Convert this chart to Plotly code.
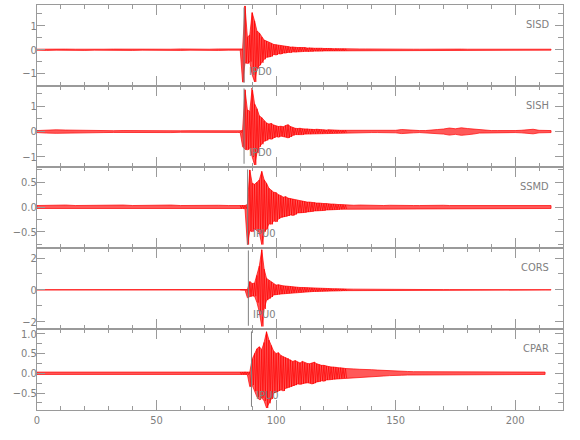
import plotly.graph_objects as go
from plotly.subplots import make_subplots

# ---------------- data ----------------
STATIONS = ["SISD", "SISH", "SSMD", "CORS", "CPAR"]
PICK_T = [86.6, 86.6, 88.1, 88.4, 89.7]
PICK_LABELS = ["IPD0", "IPD0", "IPU0", "IPU0", "IPU0"]
END_T = [215.5, 217.0, 217.0, 217.0, 212.5]
Y_RANGES = [[-1.52, 1.87], [-1.40, 1.80], [-0.83, 0.81], [-2.46, 2.63], [-0.93, 1.12]]
Y_DTICK = [1, 1, 0.5, 2, 0.5]
Y_MINOR = [0.5, 0.5, 0.25, 1, 0.25]
Y_FORMAT = ["d", "d", ".1f", "d", ".1f"]
X_TICKS = [0, 50, 100, 150, 200]

# sample grids (s)
NOISE_T = [0, 4, 8, 12, 16, 20, 24, 28, 32, 36, 40, 44, 48, 52, 56, 60, 64, 68, 72, 76, 80, 84]
ACTIVE_T = [85, 86, 87, 88, 89, 90, 91, 92, 93, 94, 95, 96, 97, 98, 99, 100, 101, 102, 103, 104,
            105, 106, 107, 108, 109, 110, 111, 112, 113, 114, 115, 116, 117, 118, 119, 120, 121,
            122, 123, 124, 125, 126, 127, 128, 129]
POST_T = [130, 132.5, 135, 137.5, 140, 142.5, 145, 147.5, 150, 152.5, 155, 157.5, 160, 162.5,
          165, 167.5, 170, 172.5, 175, 177.5, 180, 182.5, 185, 187.5, 190, 192.5, 195, 197.5,
          200, 202.5, 205, 207.5, 210, 212.5, 215]

# SISD
SISD_NOISE = [0.02, 0.03, 0.02, 0.025, 0.02, 0.03, 0.02, 0.02, 0.025, 0.02, 0.03, 0.02, 0.02,
              0.025, 0.02, 0.03, 0.02, 0.025, 0.02, 0.03, 0.02, 0.025]
SISD_HI = [0.02, 0.03, 1.83, 0.52, 0.62, 1.55, 1.2, 0.78, 0.7, 0.52, 0.4, 0.36, 0.3, 0.27, 0.22,
           0.21, 0.18, 0.17, 0.15, 0.14, 0.13, 0.11, 0.12, 0.1, 0.09, 0.1, 0.08, 0.09, 0.07, 0.08,
           0.07, 0.06, 0.07, 0.06, 0.06, 0.05, 0.06, 0.05, 0.05, 0.04, 0.05, 0.04, 0.04, 0.04, 0.035]
SISD_LO = [-0.02, -1.36, -0.55, -0.58, -0.5, -1.05, -1.35, -0.8, -0.65, -0.55, -0.4, -0.32, -0.31,
           -0.28, -0.2, -0.22, -0.17, -0.18, -0.14, -0.14, -0.11, -0.12, -0.09, -0.1, -0.09, -0.07,
           -0.08, -0.07, -0.08, -0.06, -0.07, -0.06, -0.06, -0.05, -0.06, -0.05, -0.05, -0.05,
           -0.04, -0.05, -0.04, -0.04, -0.035, -0.04, -0.03]
SISD_POST = [0.03, 0.035, 0.03, 0.03, 0.025, 0.03, 0.025, 0.02, 0.025, 0.02, 0.025, 0.02, 0.02,
             0.025, 0.02, 0.02, 0.025, 0.02, 0.02, 0.025, 0.02, 0.02, 0.02, 0.025, 0.02, 0.02,
             0.025, 0.02, 0.02, 0.02, 0.025, 0.02, 0.02, 0.02, 0.02]

# SISH
SISH_NOISE = [0.04, 0.06, 0.07, 0.06, 0.05, 0.04, 0.05, 0.04, 0.035, 0.04, 0.035, 0.04, 0.03,
              0.035, 0.04, 0.03, 0.035, 0.03, 0.035, 0.03, 0.03, 0.035]
SISH_HI = [0.03, 0.05, 1.65, 0.85, 0.8, 1.72, 1.1, 0.9, 0.62, 0.55, 0.42, 0.34, 0.3, 0.32, 0.26,
           0.22, 0.2, 0.21, 0.19, 0.24, 0.27, 0.2, 0.16, 0.13, 0.12, 0.13, 0.11, 0.1, 0.11, 0.09,
           0.1, 0.08, 0.09, 0.08, 0.07, 0.07, 0.06, 0.07, 0.06, 0.06, 0.05, 0.06, 0.05, 0.05, 0.05]
SISH_LO = [-0.04, -0.6, -0.7, -0.72, -0.65, -1.0, -1.32, -0.85, -0.6, -0.5, -0.38, -0.35, -0.28,
           -0.3, -0.25, -0.2, -0.22, -0.18, -0.2, -0.22, -0.25, -0.21, -0.15, -0.12, -0.13, -0.11,
           -0.12, -0.1, -0.09, -0.1, -0.08, -0.09, -0.08, -0.07, -0.08, -0.06, -0.07, -0.06,
           -0.06, -0.05, -0.06, -0.05, -0.05, -0.05, -0.04]
SISH_POST = [0.05, 0.045, 0.04, 0.045, 0.04, 0.04, 0.035, 0.04, 0.05, 0.08, 0.06, 0.05, 0.04,
             0.04, 0.05, 0.08, 0.1, 0.14, 0.11, 0.15, 0.12, 0.1, 0.06, 0.05, 0.04, 0.04, 0.035,
             0.04, 0.04, 0.05, 0.06, 0.09, 0.05, 0.04, 0.04]

# SSMD
SSMD_NOISE = [0.03, 0.035, 0.03, 0.04, 0.03, 0.035, 0.03, 0.03, 0.035, 0.04, 0.03, 0.035, 0.03,
              0.03, 0.04, 0.03, 0.035, 0.03, 0.03, 0.035, 0.03, 0.03]
SSMD_HI = [0.03, 0.035, 0.03, 0.05, 0.75, 0.48, 0.46, 0.5, 0.55, 0.72, 0.55, 0.48, 0.38, 0.34,
           0.3, 0.29, 0.25, 0.23, 0.2, 0.21, 0.18, 0.17, 0.16, 0.14, 0.13, 0.12, 0.12, 0.11, 0.1,
           0.1, 0.09, 0.09, 0.08, 0.08, 0.07, 0.07, 0.07, 0.06, 0.06, 0.06, 0.05, 0.05, 0.05,
           0.045, 0.04]
SSMD_LO = [-0.03, -0.03, -0.035, -0.76, -0.48, -0.5, -0.44, -0.47, -0.52, -0.76, -0.5, -0.45,
           -0.34, -0.35, -0.28, -0.3, -0.24, -0.21, -0.2, -0.19, -0.18, -0.16, -0.17, -0.15,
           -0.12, -0.12, -0.11, -0.11, -0.1, -0.09, -0.09, -0.08, -0.08, -0.07, -0.07, -0.07,
           -0.06, -0.06, -0.06, -0.05, -0.05, -0.05, -0.045, -0.04, -0.04]
SSMD_POST = [0.04, 0.035, 0.04, 0.035, 0.03, 0.035, 0.03, 0.035, 0.03, 0.03, 0.035, 0.03, 0.03,
             0.035, 0.03, 0.03, 0.035, 0.03, 0.03, 0.03, 0.035, 0.03, 0.03, 0.035, 0.03, 0.03,
             0.03, 0.035, 0.03, 0.03, 0.03, 0.035, 0.03, 0.03, 0.03]

# CORS
CORS_NOISE = [0.01, 0.012, 0.01, 0.01, 0.012, 0.01, 0.01, 0.012, 0.01, 0.01, 0.012, 0.01, 0.01,
              0.012, 0.01, 0.01, 0.012, 0.01, 0.01, 0.012, 0.01, 0.01]
CORS_HI = [0.01, 0.01, 0.012, 0.02, 0.52, 0.4, 0.42, 0.9, 1.5, 2.52, 1.3, 0.72, 0.6, 0.5, 0.36,
           0.3, 0.32, 0.27, 0.25, 0.24, 0.22, 0.21, 0.19, 0.18, 0.16, 0.15, 0.15, 0.14, 0.13,
           0.12, 0.12, 0.11, 0.1, 0.1, 0.09, 0.09, 0.08, 0.08, 0.07, 0.07, 0.07, 0.06, 0.06,
           0.06, 0.05]
CORS_LO = [-0.01, -0.01, -0.01, -0.5, -0.42, -0.38, -0.4, -0.8, -1.4, -2.3, -1.2, -0.65, -0.55,
           -0.45, -0.32, -0.3, -0.28, -0.26, -0.24, -0.22, -0.21, -0.2, -0.18, -0.17, -0.15,
           -0.15, -0.14, -0.13, -0.12, -0.12, -0.11, -0.1, -0.1, -0.09, -0.09, -0.08, -0.08,
           -0.07, -0.07, -0.07, -0.06, -0.06, -0.06, -0.05, -0.05]
CORS_POST = [0.05, 0.045, 0.04, 0.04, 0.035, 0.03, 0.03, 0.025, 0.025, 0.02, 0.02, 0.02, 0.02,
             0.015, 0.015, 0.015, 0.015, 0.015, 0.012, 0.012, 0.012, 0.012, 0.01, 0.01, 0.01,
             0.01, 0.01, 0.01, 0.01, 0.01, 0.01, 0.01, 0.01, 0.01, 0.01]

# CPAR
CPAR_NOISE = [0.03, 0.03, 0.035, 0.03, 0.03, 0.03, 0.035, 0.03, 0.03, 0.035, 0.03, 0.03, 0.03,
              0.035, 0.04, 0.03, 0.03, 0.035, 0.03, 0.03, 0.03, 0.035]
CPAR_HI = [0.03, 0.03, 0.035, 0.03, 0.03, 0.36, 0.5, 0.62, 0.67, 0.6, 0.78, 1.05, 0.84, 0.7,
           0.56, 0.5, 0.52, 0.45, 0.42, 0.4, 0.38, 0.34, 0.3, 0.32, 0.28, 0.26, 0.3, 0.27, 0.25,
           0.24, 0.26, 0.28, 0.24, 0.22, 0.2, 0.2, 0.18, 0.17, 0.16, 0.16, 0.15, 0.14, 0.14,
           0.13, 0.12]
CPAR_LO = [-0.03, -0.03, -0.03, -0.035, -0.34, -0.3, -0.45, -0.6, -0.67, -0.62, -0.7, -0.88,
           -0.76, -0.65, -0.5, -0.48, -0.45, -0.42, -0.45, -0.38, -0.36, -0.34, -0.32, -0.3,
           -0.27, -0.28, -0.26, -0.25, -0.24, -0.25, -0.27, -0.25, -0.22, -0.21, -0.19, -0.2,
           -0.17, -0.16, -0.16, -0.15, -0.14, -0.14, -0.13, -0.12, -0.12]
CPAR_POST = [0.12, 0.11, 0.1, 0.1, 0.09, 0.08, 0.07, 0.06, 0.05, 0.05, 0.045, 0.04, 0.04, 0.04,
             0.035, 0.035, 0.04, 0.035, 0.03, 0.035, 0.03, 0.03, 0.035, 0.03, 0.03, 0.03, 0.035,
             0.03, 0.03, 0.03, 0.03, 0.035, 0.03, 0.03, 0.03]

TRACES = [
    (SISD_NOISE, SISD_HI, SISD_LO, SISD_POST),
    (SISH_NOISE, SISH_HI, SISH_LO, SISH_POST),
    (SSMD_NOISE, SSMD_HI, SSMD_LO, SSMD_POST),
    (CORS_NOISE, CORS_HI, CORS_LO, CORS_POST),
    (CPAR_NOISE, CPAR_HI, CPAR_LO, CPAR_POST),
]

# ---------------- styling ----------------
RED = "#ff0000"
AX = "#9a9a9a"
TXT = "#808080"
PICKC = "#808080"
FONT = "DejaVu Sans Condensed, Liberation Sans Narrow, Arial Narrow, sans-serif"


def envelope(noise, hi, lo, post, end):
    """Polygon of the upper and lower amplitude envelope."""
    times = NOISE_T + ACTIVE_T + POST_T
    his = noise + hi + post
    los = [-a for a in noise] + lo + [-a for a in post]
    up = [(t, h) for t, h in zip(times, his) if t <= end]
    dn = [(t, l) for t, l in zip(times, los) if t <= end]
    xs = [p[0] for p in up] + [p[0] for p in reversed(dn)] + [up[0][0]]
    ys = [p[1] for p in up] + [p[1] for p in reversed(dn)] + [up[0][1]]
    return xs, ys


def zigzag(hi, lo):
    """Alternate between the upper and lower peak of every active sample."""
    xs, ys = [], []
    for i, t in enumerate(ACTIVE_T):
        nxt = ACTIVE_T[i + 1] if i + 1 < len(ACTIVE_T) else t + 1
        xs += [t, (t + nxt) / 2.0]
        ys += [hi[i], lo[i]]
    return xs, ys


fig = make_subplots(rows=5, cols=1, vertical_spacing=0)

for i, (noise, hi, lo, post) in enumerate(TRACES):
    ex, ey = envelope(noise, hi, lo, post, END_T[i])
    fig.add_trace(go.Scatter(x=ex, y=ey, mode="lines", fill="toself",
                             fillcolor="rgba(255,0,0,0.65)",
                             line=dict(color=RED, width=0.7),
                             hoverinfo="skip", showlegend=False),
                  row=i + 1, col=1)
    zx, zy = zigzag(hi, lo)
    fig.add_trace(go.Scatter(x=zx, y=zy, mode="lines",
                             line=dict(color=RED, width=0.7),
                             hoverinfo="skip", showlegend=False),
                  row=i + 1, col=1)
    n = "" if i == 0 else str(i + 1)
    # pick line
    fig.add_shape(type="line", xref="x" + n, yref="y" + n + " domain",
                  x0=PICK_T[i], x1=PICK_T[i], y0=0.04, y1=0.97,
                  line=dict(color=PICKC, width=1), layer="above")
    fig.add_annotation(xref="x" + n, yref="y" + n + " domain",
                       x=PICK_T[i] + 1.2, y=0.185, text=PICK_LABELS[i],
                       showarrow=False, xanchor="left", yanchor="middle",
                       font=dict(family=FONT, size=11, color=TXT))
    fig.add_annotation(xref="x" + n + " domain", yref="y" + n + " domain",
                       x=0.977, y=0.755, text=STATIONS[i],
                       showarrow=False, xanchor="right", yanchor="middle",
                       font=dict(family=FONT, size=11, color=TXT))
    fig.update_yaxes(range=Y_RANGES[i], dtick=Y_DTICK[i], tick0=0,
                     tickformat=Y_FORMAT[i],
                     minor=dict(ticks="inside", dtick=Y_MINOR[i], ticklen=5,
                                tickcolor=AX, showgrid=False),
                     row=i + 1, col=1)

fig.update_xaxes(range=[0, 220], tickvals=X_TICKS, showline=True, linecolor=AX, linewidth=1,
                 mirror="ticks", ticks="inside", ticklen=10, tickcolor=AX, tickwidth=1,
                 minor=dict(ticks="inside", dtick=10, tick0=0, ticklen=4, tickcolor=AX,
                            showgrid=False),
                 showgrid=False, zeroline=False, showticklabels=False, automargin=False,
                 tickfont=dict(family=FONT, size=11, color=TXT))
fig.update_xaxes(showticklabels=True, row=5, col=1)
fig.update_yaxes(showline=True, linecolor=AX, linewidth=1, mirror="ticks", ticks="inside",
                 ticklen=8, tickcolor=AX, tickwidth=1, showgrid=False, zeroline=False,
                 automargin=False, ticklabelstandoff=-3,
                 tickfont=dict(family=FONT, size=11, color=TXT))

fig.update_layout(width=580, height=440, margin=dict(l=37, r=17, t=5, b=30),
                  paper_bgcolor="white", plot_bgcolor="white", showlegend=False,
                  font=dict(family=FONT, size=11, color=TXT))

fig.write_html("out.html", config={"displayModeBar": False},
               post_script="document.body.style.margin='0px';document.body.style.padding='0px';")
